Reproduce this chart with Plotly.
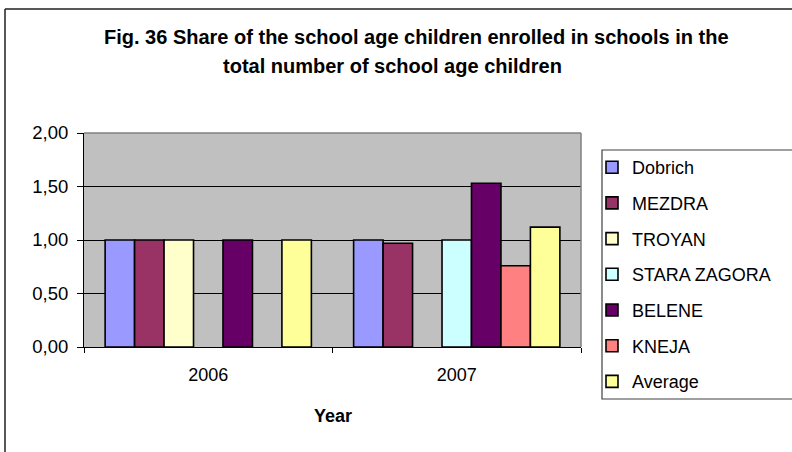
import plotly.graph_objects as go

# Data
years = ["2006", "2007"]
series_names = ["Dobrich", "MEZDRA", "TROYAN", "STARA ZAGORA", "BELENE", "KNEJA", "Average"]
dobrich = [1.00, 1.00]
mezdra = [1.00, 0.97]
troyan = [1.00, None]
stara_zagora = [None, 1.00]
belene = [1.00, 1.53]
kneja = [None, 0.76]
average = [1.00, 1.12]
y_ticks = [0, 0.5, 1.0, 1.5, 2.0]

series_values = [dobrich, mezdra, troyan, stara_zagora, belene, kneja, average]
colors = ["#9999FF", "#993366", "#FFFFCC", "#CCFFFF", "#660066", "#FF8080", "#FFFF99"]

W, H = 792, 452
L, R, T, B = 84, 211, 133, 105
PW, PH = W - L - R, H - T - B


def px(x):
    return (x - L) / PW


def py(y):
    return (H - B - y) / PH


fig = go.Figure()
for i, (name, vals, col) in enumerate(zip(series_names, series_values, colors)):
    fig.add_trace(go.Bar(
        x=years, y=vals, name=name, legendgroup=name,
        marker=dict(color=col, line=dict(color="black", width=1.6)),
    ))

font = "Liberation Sans, Arial, sans-serif"

fig.update_layout(
    width=W, height=H,
    margin=dict(l=L, r=R, t=T, b=B, autoexpand=False),
    paper_bgcolor="white",
    plot_bgcolor="#C0C0C0",
    separators=", ",
    barmode="group",
    bargap=0.17,
    bargroupgap=0,
    font=dict(family=font, size=18, color="black"),
    showlegend=True,
    legend=dict(
        x=px(592), y=py(149), xanchor="left", yanchor="top",
        xref="paper", yref="paper",
        bgcolor="rgba(0,0,0,0)", borderwidth=0,
        font=dict(family=font, size=18, color="black"),
        tracegroupgap=9.3, traceorder="grouped", maxheight=320,
    ),
    xaxis=dict(
        type="category", tickson="boundaries", ticks="outside", ticklen=5,
        tickcolor="black", showline=True, linecolor="black", linewidth=1,
        tickfont=dict(size=18), ticklabelstandoff=11, showgrid=False,
    ),
    yaxis=dict(
        range=[0, 2], tickvals=y_ticks, tickformat=".2f",
        ticks="outside", ticklen=6, tickcolor="black",
        showline=True, linecolor="black", linewidth=1,
        showgrid=True, gridcolor="black", gridwidth=1, zeroline=False,
        tickfont=dict(size=18.5), ticklabelstandoff=5,
    ),
)

# Chart title, two centred lines
fig.add_annotation(text="<b>Fig. 36 Share of the school age children enrolled in schools in the</b>",
                   x=px(416.5), y=py(37), xref="paper", yref="paper",
                   xanchor="center", yanchor="middle", showarrow=False,
                   font=dict(family=font, size=20, color="black"))
fig.add_annotation(text="<b>total number of school age children</b>",
                   x=px(392.5), y=py(66), xref="paper", yref="paper",
                   xanchor="center", yanchor="middle", showarrow=False,
                   font=dict(family=font, size=20, color="black"))
# Axis title
fig.add_annotation(text="<b>Year</b>",
                   x=px(333), y=py(416), xref="paper", yref="paper",
                   xanchor="center", yanchor="middle", showarrow=False,
                   font=dict(family=font, size=18, color="black"))

# Plot area frame (top and right edges)
fig.add_shape(type="line", xref="paper", yref="paper", x0=0, x1=1, y0=1, y1=1,
              line=dict(color="#808080", width=1.5))
fig.add_shape(type="line", xref="paper", yref="paper", x0=1, x1=1, y0=0, y1=1,
              line=dict(color="#808080", width=1.5))
# Legend box
fig.add_shape(type="rect", xref="paper", yref="paper",
              x0=px(602), x1=px(793), y0=py(399), y1=py(150),
              line=dict(color="#404040", width=1.2), fillcolor="rgba(0,0,0,0)")
# Outer chart border
fig.add_shape(type="line", xref="paper", yref="paper",
              x0=px(5), x1=px(5), y0=py(9), y1=py(455),
              line=dict(color="#202020", width=1.5))
fig.add_shape(type="line", xref="paper", yref="paper",
              x0=px(5), x1=px(795), y0=py(9), y1=py(9),
              line=dict(color="#202020", width=1.5))

fig.write_html("out.html")
